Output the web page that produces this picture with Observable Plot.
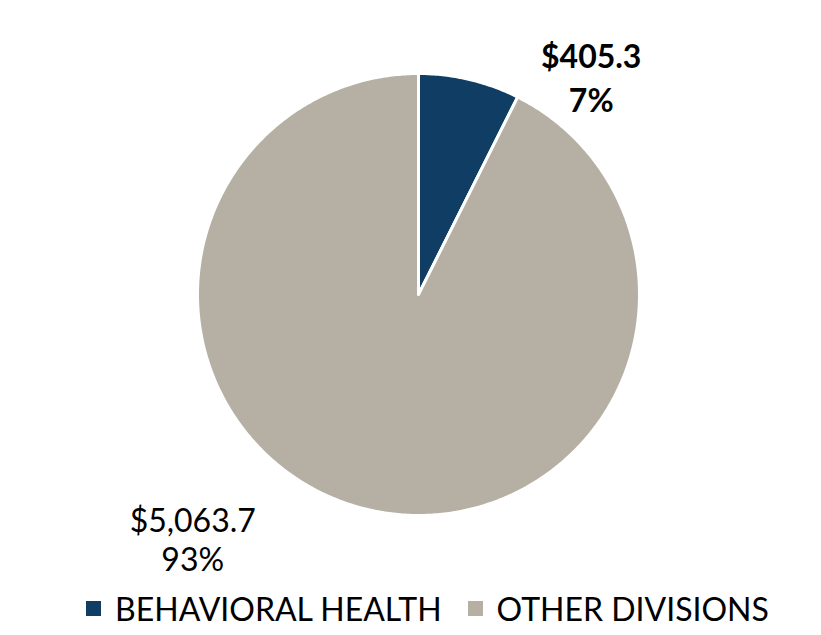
<!DOCTYPE html>
<html>
<head>
<meta charset="utf-8">
<script src="https://cdn.jsdelivr.net/npm/d3@7"></script>
<script src="https://cdn.jsdelivr.net/npm/@observablehq/plot@0.6"></script>
<style>
  body { margin: 0; background: #fff; font-family: Lato, "Open Sans", sans-serif; }
  #chart { width: 821px; }
  .legend { display: flex; justify-content: center; align-items: center; gap: 0; font-size: 32px; color: #000; margin-top: 9px; padding-left: 34px; }
  .legend .item { display: flex; align-items: center; margin: 0 13px; }
  .legend .sw { width: 15px; height: 15px; margin-right: 14px; display: inline-block; }
</style>
</head>
<body>
<div id="chart"></div>
<script>
const categories = ["BEHAVIORAL HEALTH", "OTHER DIVISIONS"];
const values = [405.3, 5063.7];
const valueLabels = ["$405.3", "$5,063.7"];
const percentLabels = ["7%", "93%"];
const colors = ["#0f3d63", "#b5b0a3"];

const pie = d3.pie().sort(null).value(d => d)(values);

// polygon points for each slice in unit-circle data space (angle 0 = top, clockwise)
const pts = [];
pie.forEach((s, i) => {
  const n = Math.max(2, Math.ceil((s.endAngle - s.startAngle) / 0.01));
  pts.push({cat: categories[i], x: 0, y: 0});
  for (let k = 0; k <= n; k++) {
    const a = s.startAngle + (s.endAngle - s.startAngle) * k / n;
    pts.push({cat: categories[i], x: Math.sin(a), y: Math.cos(a)});
  }
  pts.push({cat: categories[i], x: 0, y: 0});
});

const labelOffsets = [{r: 1.25, dx: 109, dy: 50, lh: 1.4}, {r: 1.25, dx: -162, dy: -24, lh: 1.2}];
const labels = pie.map((s, i) => {
  const a = (s.startAngle + s.endAngle) / 2;
  return {cat: categories[i], x: Math.sin(a) * labelOffsets[i].r, y: Math.cos(a) * labelOffsets[i].r,
          text: valueLabels[i] + "\n" + percentLabels[i], dx: labelOffsets[i].dx, dy: labelOffsets[i].dy};
});

const plot = Plot.plot({
  width: 821,
  height: 580,
  marginLeft: 197,
  marginRight: 182,
  marginTop: 73,
  marginBottom: 65,
  x: {domain: [-1, 1], axis: null},
  y: {domain: [-1, 1], axis: null},
  color: {domain: categories, range: colors},
  style: {fontFamily: "Lato, 'Open Sans', sans-serif", background: "#fff", overflow: "visible"},
  marks: [
    Plot.line(pts, {x: "x", y: "y", z: "cat", fill: "cat", stroke: "white", strokeWidth: 3, strokeLinejoin: "round"}),
    ...labels.map((l, i) => Plot.text([l], {x: "x", y: "y", text: "text", dx: l.dx, dy: l.dy,
      fontSize: 32, lineHeight: labelOffsets[i].lh, fill: "black", fontWeight: i === 0 ? "bold" : "normal"}))
  ]
});
document.getElementById("chart").appendChild(plot);

const legend = document.createElement("div");
legend.className = "legend";
categories.forEach((c, i) => {
  const it = document.createElement("span");
  it.className = "item";
  const sw = document.createElement("span");
  sw.className = "sw";
  sw.style.background = colors[i];
  it.appendChild(sw);
  it.appendChild(document.createTextNode(c));
  legend.appendChild(it);
});
document.getElementById("chart").appendChild(legend);
</script>
</body>
</html>
